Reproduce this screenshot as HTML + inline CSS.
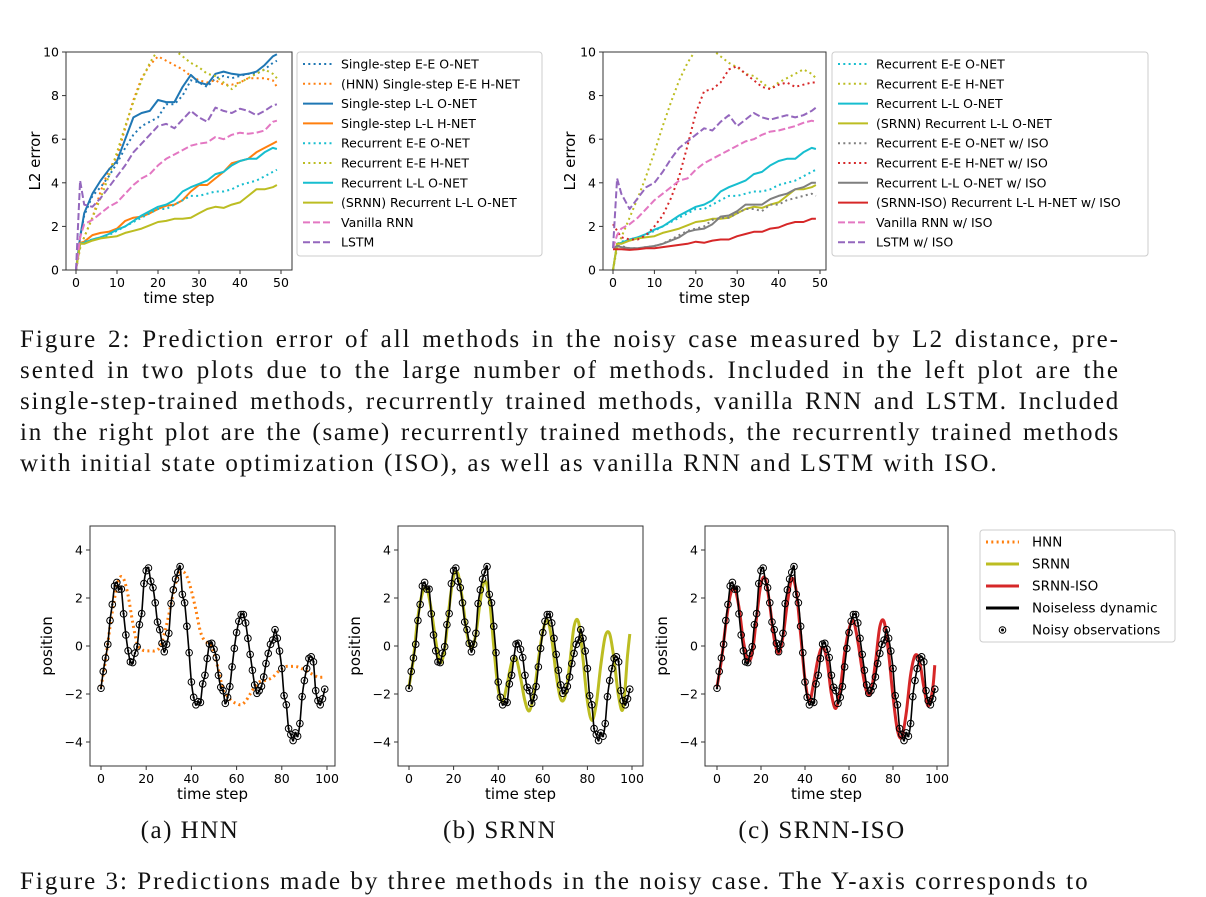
<!DOCTYPE html>
<html><head><meta charset="utf-8"><style>
body{margin:0;background:#fff;width:1206px;height:889px;overflow:hidden;position:relative;font-family:"Liberation Sans","DejaVu Sans",sans-serif}
svg{position:absolute;left:0;top:0}
.cap{position:absolute;left:20px;width:1100px;font-family:"Liberation Serif",serif;font-size:25px;letter-spacing:2.0px;line-height:31px;color:#111}
.cap div{text-align:justify;text-align-last:justify;white-space:nowrap}
.cap div.last{text-align-last:left}
.cap div.tight{letter-spacing:1.75px}
.sub{position:absolute;font-family:"Liberation Serif",serif;font-size:25px;letter-spacing:1.5px;color:#111;transform:translateX(-50%)}
</style></head><body>
<svg id="chart" width="1206" height="889"></svg>
<div class="cap" style="top:324px">
<div>Figure 2: Prediction error of all methods in the noisy case measured by L2 distance, pre-</div>
<div>sented in two plots due to the large number of methods. Included in the left plot are the</div>
<div class="tight">single-step-trained methods, recurrently trained methods, vanilla RNN and LSTM. Included</div>
<div class="tight">in the right plot are the (same) recurrently trained methods, the recurrently trained methods</div>
<div class="last">with initial state optimization (ISO), as well as vanilla RNN and LSTM with ISO.</div>
</div>
<div class="sub" style="left:190px;top:817px">(a) HNN</div>
<div class="sub" style="left:500px;top:817px">(b) SRNN</div>
<div class="sub" style="left:822px;top:817px">(c) SRNN-ISO</div>
<div class="cap" style="top:866px"><div class="last">Figure 3: Predictions made by three methods in the noisy case. The Y-axis corresponds to</div></div>
<script>
// ---- Figure 2 data ----
const tSteps=[0,1,2,4,6,8,10,12,14,16,18,20,22,24,26,28,30,32,34,36,38,40,42,44,46,48,49];
const ssEEO=[0,1.5,2.5,3.4,3.8,4.3,4.9,5.6,6.2,6.6,6.8,7.0,7.6,7.6,8.0,8.7,8.6,8.4,8.8,8.9,8.8,8.9,9.0,9.0,9.2,9.5,9.6];
const ssEEH=[0,1.0,1.5,2.4,3.6,4.6,5.2,6.5,7.8,8.8,9.4,9.8,9.6,9.4,9.2,8.9,8.7,8.6,8.7,8.5,8.5,8.6,8.8,8.8,8.8,8.7,8.4];
const ssLLO=[0,1.5,2.6,3.5,4.1,4.6,5.0,6.0,7.0,7.2,7.3,7.8,7.7,7.7,8.4,8.95,8.6,8.5,9.0,9.1,9.0,8.95,9.0,9.1,9.4,9.8,9.9];
const ssLLH=[0,1.25,1.3,1.6,1.7,1.75,1.9,2.25,2.4,2.45,2.6,2.8,2.95,3.0,3.2,3.6,3.9,3.9,4.2,4.5,4.9,5.0,5.1,5.4,5.6,5.8,5.9];
const recEEO=[0,1.2,1.3,1.4,1.5,1.6,1.8,2.0,2.2,2.4,2.6,2.8,2.8,3.0,3.2,3.4,3.4,3.5,3.6,3.6,3.7,3.9,4.0,4.1,4.3,4.5,4.6];
const recEEH=[0,1.0,1.5,2.4,3.3,4.3,5.4,6.6,7.7,8.7,9.5,10.1,10.3,10.1,9.8,9.5,9.3,9.0,8.9,8.6,8.3,8.6,8.8,9.0,9.2,9.0,8.8];
const recLLO=[0,1.2,1.25,1.4,1.5,1.65,1.85,2.0,2.25,2.5,2.7,2.9,3.0,3.2,3.6,3.8,3.95,4.1,4.4,4.5,4.8,5.0,5.1,5.1,5.4,5.6,5.55];
const srnnLLO=[0,1.2,1.2,1.35,1.45,1.5,1.55,1.7,1.8,1.9,2.05,2.2,2.25,2.35,2.35,2.4,2.6,2.8,2.9,2.85,3.0,3.1,3.4,3.7,3.7,3.8,3.9];
const vanilla=[0,1.5,2.1,2.3,2.6,2.9,3.1,3.5,3.9,4.2,4.4,4.8,5.1,5.3,5.5,5.7,5.8,5.85,6.1,6.0,6.2,6.3,6.25,6.3,6.4,6.8,6.85];
const lstm=[0,4.1,3.0,2.9,3.3,3.8,4.3,4.8,5.4,5.8,6.2,6.6,6.7,6.5,6.9,7.3,7.0,6.8,7.45,7.3,7.2,7.4,7.3,7.1,7.3,7.55,7.6];
const isoEEO=[1.0,1.1,1.1,1.0,1.0,1.05,1.1,1.2,1.4,1.6,1.8,1.9,2.0,2.3,2.4,2.4,2.6,2.8,2.8,2.7,3.0,3.0,3.2,3.3,3.4,3.5,3.4];
const isoEEH=[2.1,1.8,1.5,1.4,1.4,1.6,2.0,2.5,3.3,4.3,5.7,7.2,8.2,8.3,8.6,9.2,9.35,9.0,8.7,8.4,8.3,8.5,8.6,8.4,8.5,8.6,8.6];
const isoLLO=[1.0,1.1,1.05,1.0,1.0,1.05,1.1,1.2,1.35,1.5,1.75,1.85,1.9,2.1,2.45,2.5,2.7,3.0,3.0,3.0,3.25,3.4,3.5,3.7,3.8,4.0,4.0];
const isoLLH=[0.95,0.95,0.95,0.92,0.95,1.0,1.0,1.05,1.1,1.15,1.2,1.3,1.25,1.35,1.4,1.4,1.55,1.65,1.75,1.75,1.9,1.95,2.1,2.2,2.2,2.35,2.35];
const isoVanilla=[1.0,1.6,1.9,2.1,2.4,2.8,3.2,3.5,3.8,4.1,4.2,4.6,4.9,5.1,5.3,5.5,5.7,5.9,6.0,6.2,6.35,6.4,6.5,6.6,6.75,6.85,6.8];
const isoLstm=[1.0,4.2,3.5,2.8,3.3,3.8,4.0,4.5,5.1,5.6,5.9,6.2,6.5,6.4,6.8,7.1,6.6,6.9,7.2,7.0,6.9,7.0,7.1,7.0,7.1,7.3,7.45];
const l2Ticks=[0,2,4,6,8,10];
const stepTicks=[0,10,20,30,40,50];
// ---- Figure 3 data ----
const noiseless=[-1.76,-1.06,-0.5,0.07,1.06,1.73,2.5,2.65,2.37,2.37,1.34,0.46,-0.2,-0.66,-0.69,-0.3,-0.03,0.89,1.35,2.6,3.14,3.25,2.7,2.43,1.8,1.0,0.68,0.11,-0.24,0.07,0.53,1.77,2.34,2.79,3.07,3.31,2.15,1.8,0.82,-0.28,-1.5,-2.14,-2.45,-2.32,-2.35,-1.58,-1.22,-0.52,0.08,0.11,-0.14,-0.48,-1.22,-1.72,-1.86,-2.39,-2.14,-1.69,-0.87,-0.1,0.56,1.03,1.31,1.31,0.96,0.32,-0.35,-1.01,-1.62,-1.97,-1.86,-1.68,-1.29,-0.73,-0.31,0.07,0.25,0.68,0.32,-0.21,-0.94,-2.07,-2.45,-3.44,-3.69,-3.94,-3.62,-3.76,-3.23,-2.11,-1.44,-0.94,-0.52,-0.45,-0.66,-1.86,-2.28,-2.45,-2.2,-1.8];
const noisy=noiseless.slice();
const t2=[0,2,4,6,8,10,12,14,16,18,20,22,24,26,28,30,32,34,36,38,40,42,44,46,48,50,52,54,56,58,60,62,64,66,68,70,72,74,76,78,80,82,84,86,88,90,92,94,96,98,99];
const hnn=[-1.7,-0.6,0.8,2.0,2.8,2.8,2.1,1.0,0.1,-0.15,-0.2,-0.2,-0.2,-0.05,0.5,1.3,2.2,2.9,3.1,2.9,2.3,1.5,0.6,0.2,0.1,-0.3,-1.0,-1.8,-2.1,-2.3,-2.4,-2.45,-2.3,-2.0,-1.7,-1.5,-1.45,-1.4,-1.3,-1.1,-0.95,-0.85,-0.85,-0.85,-0.9,-1.0,-1.1,-1.2,-1.3,-1.3,-1.3];
const srnn=[-1.7,-0.5,1.2,2.2,2.4,1.5,0.2,-0.7,-0.1,1.6,2.9,3.0,1.9,0.5,-0.1,0.5,1.9,2.7,2.0,0.0,-1.8,-2.3,-1.6,-0.7,-0.5,-1.3,-2.3,-2.7,-2.0,-0.6,0.6,1.1,0.3,-1.2,-2.2,-2.1,-0.8,0.8,1.0,-0.5,-2.3,-3.1,-2.4,-0.8,0.4,0.5,-0.6,-2.1,-2.6,-0.4,0.5];
const srnnIso=[-1.7,-0.6,0.9,2.1,2.4,1.6,0.2,-0.6,-0.3,1.2,2.6,2.8,1.7,0.3,-0.3,0.4,1.8,2.8,2.3,0.5,-1.4,-2.3,-1.5,-0.5,-0.05,-0.6,-2.0,-2.6,-1.8,-0.3,0.7,1.05,0.2,-1.0,-1.9,-1.9,-0.7,0.8,1.0,-0.3,-2.1,-3.5,-3.8,-2.8,-1.2,-0.4,-0.6,-1.7,-2.5,-1.8,-0.8];
const posTicks=[-4,-2,0,2,4];
const t3Ticks=[0,20,40,60,80,100];

const svg=document.getElementById('chart');
const NS='http://www.w3.org/2000/svg';
function el(tag,attrs,parent){const e=document.createElementNS(NS,tag);for(const k in attrs)e.setAttribute(k,attrs[k]);(parent||svg).appendChild(e);return e;}
function txt(s,x,y,size,anchor,parent){const t=el('text',{x:x,y:y,'font-size':size,'text-anchor':anchor||'middle','font-family':'"DejaVu Sans","Liberation Sans",sans-serif',fill:'#000'},parent);t.textContent=s;return t;}

function axes(name,box,xd,yd,xt,yt,xlabel,ylabel){
  const g=el('g',{});
  
  
  const sx=v=>box.x0+(v-xd[0])/(xd[1]-xd[0])*(box.x1-box.x0);
  const sy=v=>box.y0+(v-yd[0])/(yd[1]-yd[0])*(box.y1-box.y0);
  const cid='clip'+name;
  const cp=el('clipPath',{id:cid},g);el('rect',{x:box.l,y:box.t,width:box.r-box.l,height:box.b-box.t},cp);
  const plot=el('g',{'clip-path':'url(#'+cid+')'},g);
  for(const v of xt){const x=sx(v);el('line',{x1:x,x2:x,y1:box.b,y2:box.b+4,stroke:'#333','stroke-width':1},g);
    const tl=txt(String(v),x,box.b+17,12.5,'middle',g);
    
    }
  for(const v of yt){const y=sy(v);el('line',{x1:box.l-4,x2:box.l,y1:y,y2:y,stroke:'#333','stroke-width':1},g);
    const tl=txt(String(v).replace('-','\u2212'),box.l-7,y+4.5,12.5,'end',g);
    
    }
  el('rect',{x:box.l,y:box.t,width:box.r-box.l,height:box.b-box.t,fill:'none',stroke:'#333','stroke-width':1},g);
  const xl=txt(xlabel,(box.l+box.r)/2,box.b+33,15,'middle',g);
  
  
  const yl=txt(ylabel,0,0,15,'middle',g);
  yl.setAttribute('transform','translate('+box.yl+','+(box.t+box.b)/2+') rotate(-90)');
  
  
  return {sx,sy,plot};
}
function pathD(pts,smooth){
  if(!smooth)return pts.map((p,i)=>(i?'L':'M')+p[0].toFixed(1)+','+p[1].toFixed(1)).join('');
  let d='M'+pts[0][0].toFixed(1)+','+pts[0][1].toFixed(1);
  for(let i=0;i<pts.length-1;i++){
    const p0=pts[Math.max(0,i-1)],p1=pts[i],p2=pts[i+1],p3=pts[Math.min(pts.length-1,i+2)];
    const c1=[p1[0]+(p2[0]-p0[0])/6,p1[1]+(p2[1]-p0[1])/6],c2=[p2[0]-(p3[0]-p1[0])/6,p2[1]-(p3[1]-p1[1])/6];
    d+='C'+c1[0].toFixed(1)+','+c1[1].toFixed(1)+' '+c2[0].toFixed(1)+','+c2[1].toFixed(1)+' '+p2[0].toFixed(1)+','+p2[1].toFixed(1);
  }
  return d;
}
function series(ax,name,xs,ys,color,style,width,smooth){
  const pts=xs.map((x,i)=>[ax.sx(x),ax.sy(ys[i])]);
  const a={d:pathD(pts,smooth),fill:'none',stroke:color,'stroke-width':width||2,'stroke-linejoin':'round'};
  if(style==='dot'){a['stroke-dasharray']='2 3.3';}
  if(style==='dash'){a['stroke-dasharray']='7 3';}
  const p=el('path',a,ax.plot);
  
  
  return p;
}
function legend(name,x,y,w,h,items,fs,sp,lineW,textX){
  const g=el('g',{});
  
  
  el('rect',{x:x,y:y,width:w,height:h,rx:3,fill:'#fff',stroke:'#ccc','stroke-width':1},g);
  items.forEach((it,i)=>{const yy=y+12+i*sp;
    const e=el('g',{},g);
    
    
    if(it.style==='marker'){el('circle',{cx:x+6+lineW/2,cy:yy,r:3.3,fill:'none',stroke:'#000'},e);el('circle',{cx:x+6+lineW/2,cy:yy,r:1.5,fill:'#000'},e);}
    else{const a={x1:x+6,x2:x+6+lineW,y1:yy,y2:yy,stroke:it.color,'stroke-width':it.w||2};
      if(it.style==='dot')a['stroke-dasharray']='2 3.3';if(it.style==='dash')a['stroke-dasharray']='7 3';el('line',a,e);}
    txt(it.label,x+textX,yy+4.5,fs,'start',e);});
}
const BLUE='#1f77b4',ORANGE='#ff7f0e',CYAN='#17becf',OLIVE='#bcbd22',PINK='#e377c2',PURPLE='#9467bd',GRAY='#7f7f7f',RED='#d62728';

// left top
const A1=axes('l2-plot-left',{l:66,r:292,t:52,b:270,x0:76,x1:281,y0:270,y1:52,yl:40},[0,50],[0,10],stepTicks,l2Ticks,'time step','L2 error');
const left=[['Single-step E-E O-NET',ssEEO,BLUE,'dot'],['(HNN) Single-step E-E H-NET',ssEEH,ORANGE,'dot'],['Single-step L-L O-NET',ssLLO,BLUE,'solid'],['Single-step L-L H-NET',ssLLH,ORANGE,'solid'],['Recurrent E-E O-NET',recEEO,CYAN,'dot'],['Recurrent E-E H-NET',recEEH,OLIVE,'dot'],['Recurrent L-L O-NET',recLLO,CYAN,'solid'],['(SRNN) Recurrent L-L O-NET',srnnLLO,OLIVE,'solid'],['Vanilla RNN',vanilla,PINK,'dash'],['LSTM',lstm,PURPLE,'dash']];
left.forEach(s=>series(A1,'line-'+s[0].toLowerCase().replace(/[^a-z0-9]+/g,'-'),tSteps,s[1],s[2],s[3],2));
legend('legend-left',297,52,245,204,left.map(s=>({label:s[0],color:s[2],style:s[3]})),12.5,19.8,30,44);

// right top
const A2=axes('l2-plot-right',{l:603,r:826,t:52,b:270,x0:613,x1:820,y0:270,y1:52,yl:575},[0,50],[0,10],stepTicks,l2Ticks,'time step','L2 error');
const right=[['Recurrent E-E O-NET',recEEO,CYAN,'dot'],['Recurrent E-E H-NET',recEEH,OLIVE,'dot'],['Recurrent L-L O-NET',recLLO,CYAN,'solid'],['(SRNN) Recurrent L-L O-NET',srnnLLO,OLIVE,'solid'],['Recurrent E-E O-NET w/ ISO',isoEEO,GRAY,'dot'],['Recurrent E-E H-NET w/ ISO',isoEEH,RED,'dot'],['Recurrent L-L O-NET w/ ISO',isoLLO,GRAY,'solid'],['(SRNN-ISO) Recurrent L-L H-NET w/ ISO',isoLLH,RED,'solid'],['Vanilla RNN w/ ISO',isoVanilla,PINK,'dash'],['LSTM w/ ISO',isoLstm,PURPLE,'dash']];
right.forEach(s=>series(A2,'line-'+s[0].toLowerCase().replace(/[^a-z0-9]+/g,'-'),tSteps,s[1],s[2],s[3],2));
legend('legend-right',832,52,316,204,right.map(s=>({label:s[0],color:s[2],style:s[3]})),12.5,19.8,30,44);

// bottom
const tAll=noiseless.map((_,i)=>i);
function posPlot(name,l,r,x0,x1,yl,pred,color,style,w){
  const A=axes(name,{l:l,r:r,t:526,b:766,x0:x0,x1:x1,y0:766,y1:526,yl:yl},[0,100],[-5,5],t3Ticks,posTicks,'time step','position');
  series(A,'prediction-line',t2,pred,color,style,w,true);
  series(A,'noiseless-line',tAll,noiseless,'#000','solid',1.6,true);
  noisy.forEach((v,i)=>{const g=el('g',{},A.plot);
    
    
    el('circle',{cx:A.sx(i),cy:A.sy(v),r:3.3,fill:'none',stroke:'#000','stroke-width':1},g);
    el('circle',{cx:A.sx(i),cy:A.sy(v),r:1.2,fill:'#000'},g);});
}
posPlot('position-plot-hnn',90,335,101,327,52,hnn,ORANGE,'dot',3);
posPlot('position-plot-srnn',398,643,409,632,360,srnn,OLIVE,'solid',3);
posPlot('position-plot-srnn-iso',705,948,717,937,667,srnnIso,RED,'solid',3);
legend('legend-bottom',980,530,195,112,[{label:'HNN',color:ORANGE,style:'dot',w:3},{label:'SRNN',color:OLIVE,style:'solid',w:3},{label:'SRNN-ISO',color:RED,style:'solid',w:3},{label:'Noiseless dynamic',color:'#000',style:'solid',w:3},{label:'Noisy observations',style:'marker'}],13.5,22,33,52);
</script>
</body></html>
